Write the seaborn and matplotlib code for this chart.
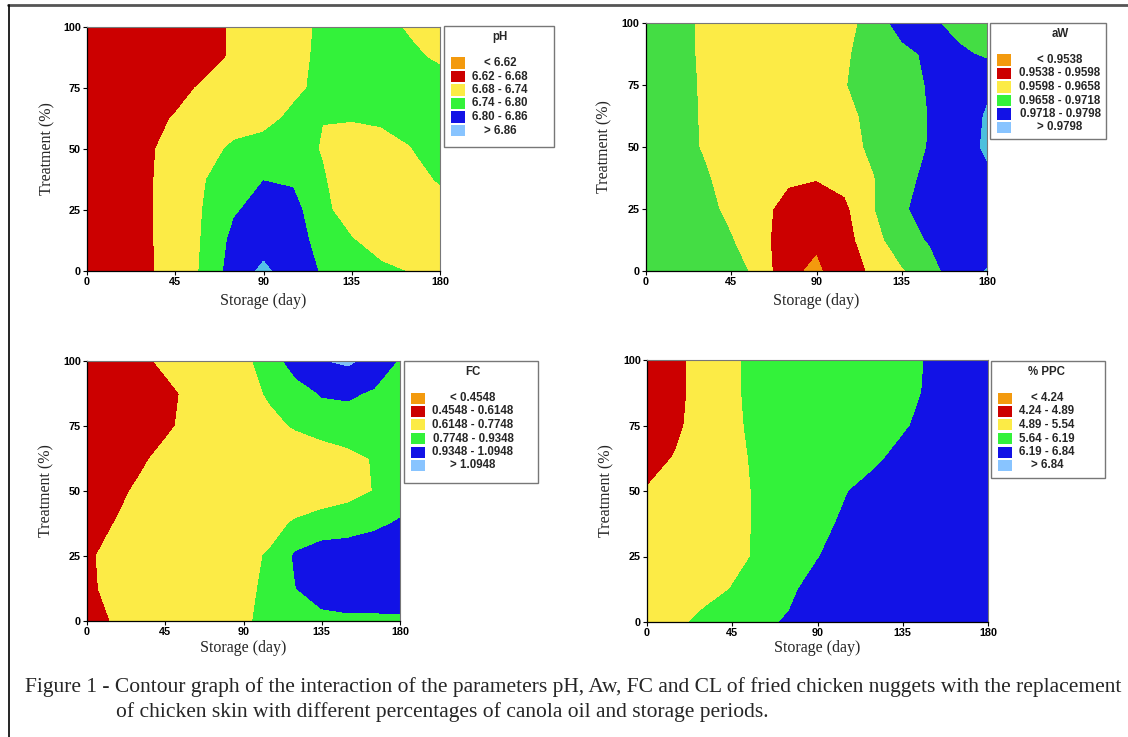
import numpy as np
import seaborn as sns
import matplotlib.pyplot as plt
from matplotlib.patches import Rectangle
from matplotlib.lines import Line2D

# grid: storage (day) x treatment (%)
storage = [0, 15, 30, 45, 60, 75, 90, 105, 120, 135, 150, 165, 180]
treatment = [0, 12.5, 25, 37.5, 50, 62.5, 75, 87.5, 100]

ph = [
    [6.650, 6.656, 6.677, 6.687, 6.753, 6.827, 6.872, 6.827, 6.795, 6.776, 6.758, 6.735, 6.722],
    [6.650, 6.656, 6.677, 6.688, 6.748, 6.816, 6.835, 6.827, 6.777, 6.746, 6.701, 6.704, 6.707],
    [6.650, 6.656, 6.677, 6.688, 6.744, 6.794, 6.821, 6.816, 6.764, 6.692, 6.698, 6.704, 6.710],
    [6.650, 6.656, 6.677, 6.688, 6.737, 6.782, 6.799, 6.794, 6.746, 6.701, 6.698, 6.716, 6.746],
    [6.650, 6.656, 6.674, 6.692, 6.716, 6.752, 6.770, 6.764, 6.736, 6.710, 6.716, 6.737, 6.782],
    [6.650, 6.653, 6.662, 6.684, 6.704, 6.710, 6.716, 6.756, 6.741, 6.743, 6.749, 6.764, 6.770],
    [6.650, 6.650, 6.653, 6.662, 6.689, 6.710, 6.713, 6.722, 6.760, 6.770, 6.770, 6.764, 6.755],
    [6.650, 6.650, 6.650, 6.653, 6.659, 6.688, 6.710, 6.722, 6.752, 6.764, 6.758, 6.746, 6.735],
    [6.650, 6.650, 6.650, 6.653, 6.659, 6.687, 6.710, 6.723, 6.748, 6.758, 6.749, 6.736, 6.722],
]

aw = [
    [0.9688, 0.9688, 0.9688, 0.9688, 0.9636, 0.9550, 0.9526, 0.9574, 0.9606, 0.9652, 0.9691, 0.9759, 0.9802],
    [0.9688, 0.9688, 0.9688, 0.9661, 0.9616, 0.9568, 0.9547, 0.9574, 0.9638, 0.9688, 0.9724, 0.9750, 0.9758],
    [0.9688, 0.9688, 0.9676, 0.9644, 0.9622, 0.9570, 0.9562, 0.9586, 0.9655, 0.9700, 0.9766, 0.9766, 0.9766],
    [0.9688, 0.9688, 0.9667, 0.9633, 0.9622, 0.9610, 0.9601, 0.9616, 0.9655, 0.9700, 0.9732, 0.9758, 0.9786],
    [0.9688, 0.9682, 0.9654, 0.9628, 0.9622, 0.9622, 0.9622, 0.9634, 0.9670, 0.9688, 0.9722, 0.9766, 0.9808],
    [0.9688, 0.9676, 0.9654, 0.9628, 0.9622, 0.9622, 0.9622, 0.9634, 0.9682, 0.9694, 0.9720, 0.9766, 0.9803],
    [0.9688, 0.9676, 0.9653, 0.9628, 0.9622, 0.9622, 0.9628, 0.9652, 0.9712, 0.9700, 0.9722, 0.9758, 0.9788],
    [0.9688, 0.9676, 0.9651, 0.9628, 0.9622, 0.9622, 0.9628, 0.9649, 0.9687, 0.9694, 0.9734, 0.9734, 0.9704],
    [0.9688, 0.9676, 0.9651, 0.9628, 0.9622, 0.9622, 0.9628, 0.9646, 0.9672, 0.9752, 0.9734, 0.9687, 0.9682],
]

fc = [
    [0.5508, 0.6228, 0.6948, 0.6948, 0.6948, 0.7108, 0.7508, 0.8180, 0.8548, 0.8868, 0.9028, 0.9028, 0.9108],
    [0.5668, 0.6772, 0.6948, 0.6948, 0.6948, 0.7108, 0.7508, 0.7956, 0.9316, 1.0148, 1.0308, 1.0308, 1.0148],
    [0.5588, 0.7172, 0.7108, 0.6948, 0.6948, 0.7108, 0.7428, 0.7860, 0.9572, 1.0308, 1.0308, 1.0308, 1.0148],
    [0.5508, 0.6116, 0.6948, 0.6948, 0.6948, 0.6948, 0.7108, 0.7348, 0.7892, 0.8228, 0.8548, 0.9028, 0.9508],
    [0.5508, 0.5668, 0.6420, 0.6948, 0.6788, 0.6788, 0.6788, 0.6788, 0.6948, 0.7108, 0.7268, 0.7780, 0.8548],
    [0.5348, 0.5508, 0.5828, 0.6628, 0.6788, 0.6788, 0.6788, 0.6788, 0.6948, 0.7108, 0.7348, 0.7828, 0.8548],
    [0.5348, 0.5348, 0.5428, 0.5828, 0.6676, 0.6948, 0.7108, 0.7428, 0.7860, 0.8228, 0.8548, 0.8548, 0.8708],
    [0.5348, 0.5348, 0.5348, 0.5668, 0.6564, 0.6948, 0.7268, 0.7892, 0.8388, 0.9492, 0.9588, 0.9140, 0.8868],
    [0.5348, 0.5348, 0.5668, 0.6532, 0.6948, 0.7108, 0.7508, 0.8180, 1.0372, 1.0868, 1.1188, 1.0468, 0.9172],
]

ppc = [
    [5.215, 5.410, 5.683, 5.865, 6.060, 6.255, 6.385, 6.515, 6.515, 6.515, 6.515, 6.515, 6.515],
    [5.215, 5.280, 5.345, 5.560, 5.800, 6.060, 6.450, 6.515, 6.515, 6.515, 6.515, 6.515, 6.515],
    [5.215, 5.215, 5.280, 5.410, 5.612, 5.865, 6.158, 6.515, 6.515, 6.515, 6.515, 6.515, 6.515],
    [5.215, 5.215, 5.280, 5.410, 5.605, 5.800, 5.995, 6.307, 6.450, 6.515, 6.515, 6.515, 6.515],
    [4.923, 5.085, 5.215, 5.410, 5.605, 5.735, 5.865, 6.158, 6.444, 6.515, 6.515, 6.515, 6.515],
    [4.682, 4.926, 5.150, 5.410, 5.638, 5.735, 5.800, 5.865, 6.060, 6.411, 6.515, 6.515, 6.515],
    [4.565, 4.760, 5.196, 5.410, 5.722, 5.800, 5.865, 5.865, 5.930, 6.093, 6.457, 6.515, 6.515],
    [4.565, 4.728, 5.134, 5.378, 5.865, 5.865, 5.865, 5.865, 5.898, 5.995, 6.288, 6.450, 6.515],
    [4.565, 4.728, 5.134, 5.378, 5.865, 5.865, 5.865, 5.865, 5.898, 5.995, 6.255, 6.450, 6.515],
]

ph_levels = [6.0, 6.62, 6.68, 6.74, 6.80, 6.86, 7.5]
aw_levels = [0.90, 0.9538, 0.9598, 0.9658, 0.9718, 0.9798, 1.0]
fc_levels = [0.0, 0.4548, 0.6148, 0.7748, 0.9348, 1.0948, 2.0]
ppc_levels = [3.0, 4.24, 4.89, 5.54, 6.19, 6.84, 8.0]

ph_labels = ["< 6.62", "6.62 - 6.68", "6.68 - 6.74", "6.74 - 6.80", "6.80 - 6.86", "> 6.86"]
aw_labels = ["< 0.9538", "0.9538 - 0.9598", "0.9598 - 0.9658", "0.9658 - 0.9718", "0.9718 - 0.9798", "> 0.9798"]
fc_labels = ["< 0.4548", "0.4548 - 0.6148", "0.6148 - 0.7748", "0.7748 - 0.9348", "0.9348 - 1.0948", "> 1.0948"]
ppc_labels = ["< 4.24", "4.24 - 4.89", "4.89 - 5.54", "5.64 - 6.19", "6.19 - 6.84", "> 6.84"]

xticks = [0, 45, 90, 135, 180]
yticks = [0, 25, 50, 75, 100]

caption1 = ("Figure 1 - Contour graph of the interaction of the parameters pH, Aw, FC and CL "
            "of fried chicken nuggets with the replacement")
caption2 = "of chicken skin with different percentages of canola oil and storage periods."

fill_cols = sns.color_palette(["#F39A0E", "#CC0000", "#FCEB46", "#33F23A", "#1212E6", "#55C0E8"])
fill_cols_aw = sns.color_palette(["#F39A0E", "#CC0000", "#FCEB46", "#44DD44", "#1212E6", "#4CC0DE"])
fill_cols_fc = sns.color_palette(["#F39A0E", "#CC0000", "#FCEB46", "#33F23A", "#1212E6", "#80C0F6"])
key_cols = sns.color_palette(["#F39A0E", "#CC0000", "#FCEB46", "#33F23A", "#1212E6", "#88C4FF"])

sns.set_style("white")
plt.rcParams['font.family'] = ['Liberation Sans', 'DejaVu Sans']

W, H = 1128, 737
fig = plt.figure(figsize=(W / 100, H / 100), dpi=100)


def fx(x):
    return x / W


def fy(y):
    return 1 - y / H


def panel(box, z, levels, cols, key_box, key_title, labels, key_cx, ylab_x, xlab_y):
    x0, y0, x1, y1 = box
    ax = fig.add_axes([fx(x0), fy(y1), (x1 - x0) / W, (y1 - y0) / H])
    ax.contourf(storage, treatment, np.array(z), levels=levels, colors=cols)
    ax.set_xlim(0, 180)
    ax.set_ylim(0, 100)
    ax.set_xticks(xticks)
    ax.set_yticks(yticks)
    ax.tick_params(axis='both', direction='out', length=3, width=0.8, pad=1.5,
                   labelsize=7.8, bottom=True, left=True, colors='black')
    for lbl in ax.get_xticklabels() + ax.get_yticklabels():
        lbl.set_fontweight('bold')
    for side in ['left', 'bottom']:
        ax.spines[side].set_color('black')
        ax.spines[side].set_linewidth(0.9)
    for side in ['top', 'right']:
        ax.spines[side].set_color('#777777')
        ax.spines[side].set_linewidth(0.8)
    fig.text(fx((x0 + x1) / 2), fy(xlab_y), "Storage (day)", family='Liberation Serif',
             fontsize=11.5, ha='center', va='center')
    fig.text(fx(ylab_x), fy((y0 + y1) / 2), "Treatment (%)", family='Liberation Serif',
             fontsize=11.5, ha='center', va='center', rotation=90)

    # key box
    kx0, ky0, kx1, ky1 = key_box
    fig.patches.append(Rectangle((fx(kx0), fy(ky1)), (kx1 - kx0) / W, (ky1 - ky0) / H,
                                 transform=fig.transFigure, facecolor='white',
                                 edgecolor='#777777', linewidth=1.0))
    fig.text(fx(key_cx), fy(ky0 + 11), key_title, fontsize=8.3, fontweight='bold',
             ha='center', va='center')
    for k, (c, lab) in enumerate(zip(key_cols, labels)):
        yc = ky0 + 37 + 13.5 * k
        fig.patches.append(Rectangle((fx(kx0 + 7), fy(yc + 5.5)), 14 / W, 11 / H,
                                     transform=fig.transFigure, facecolor=c, edgecolor='none'))
        fig.text(fx(key_cx), fy(yc), lab, fontsize=8.3, fontweight='bold',
                 ha='center', va='center')
    return ax


panel((87, 27, 440, 271), ph, ph_levels, fill_cols, (444, 26, 554, 147), "pH", ph_labels, 500, 47, 301)
panel((646, 23, 987, 271), aw, aw_levels, fill_cols_aw, (990, 23, 1106, 139), "aW", aw_labels, 1060, 604, 301)
panel((87, 361, 400, 621), fc, fc_levels, fill_cols_fc, (404, 361, 538, 483), "FC", fc_labels, 473, 46, 648)
panel((647, 360, 988, 622), ppc, ppc_levels, fill_cols, (991, 361, 1105, 478), "% PPC", ppc_labels, 1047, 606, 648)

# outer frame of the figure
fig.lines.append(Line2D([fx(8), fx(1128)], [fy(5), fy(5)], transform=fig.transFigure,
                        color='#555555', linewidth=2.0))
fig.lines.append(Line2D([fx(9), fx(9)], [fy(5), fy(737)], transform=fig.transFigure,
                        color='black', linewidth=1.2))

fig.text(fx(25), fy(692), caption1, family='Liberation Serif', fontsize=15.45,
         ha='left', va='baseline')
fig.text(fx(116), fy(717), caption2, family='Liberation Serif', fontsize=15.45,
         ha='left', va='baseline')

fig.savefig('out.png', dpi=100)
